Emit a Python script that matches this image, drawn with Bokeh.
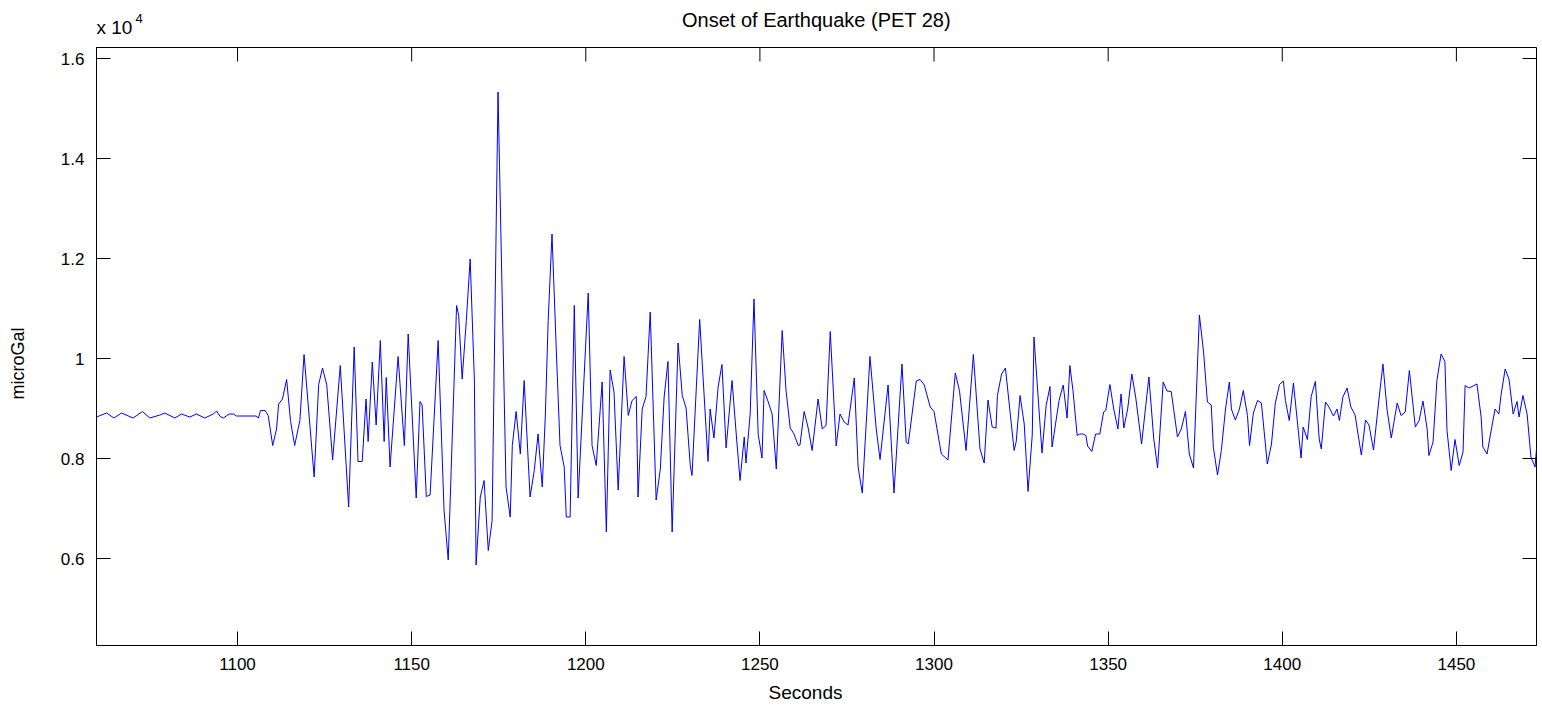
from bokeh.plotting import figure
from bokeh.models import Range1d, FixedTicker, Label, CustomJSTickFormatter
from bokeh.embed import file_html
from bokeh.resources import INLINE

# Gravimeter record around the earthquake onset (time in s, gravity in microGal)
t_sec = [
    1059.5, 1062.4, 1064.5, 1066.7, 1070.0, 1072.7, 1074.8, 1077.7, 1079.1, 1082.0,
    1083.9, 1086.3, 1088.2, 1090.6, 1093.0, 1094.0, 1095.0, 1095.9, 1097.6, 1098.8,
    1099.7, 1105.3, 1106.0, 1106.6, 1107.9, 1108.8, 1110.1, 1111.2, 1111.8, 1112.9,
    1114.1, 1115.2, 1116.4, 1117.9, 1119.1, 1122.0, 1123.3, 1124.4, 1125.6, 1127.3,
    1129.5, 1131.9, 1133.5, 1134.6, 1135.8, 1136.9, 1137.5, 1138.7, 1139.8, 1141.0,
    1142.1, 1142.7, 1143.8, 1146.1, 1147.9, 1149.0, 1151.3, 1152.4, 1153.0, 1154.2,
    1155.3, 1157.6, 1159.3, 1160.5, 1162.9, 1163.5, 1164.5, 1165.7, 1166.8, 1168.0,
    1168.5, 1169.7, 1170.8, 1172.0, 1173.1, 1174.8, 1177.1, 1178.3, 1178.9, 1180.0,
    1181.2, 1182.3, 1184.0, 1185.2, 1186.3, 1187.5, 1188.4, 1189.2, 1190.3, 1191.5,
    1192.6, 1193.8, 1194.4, 1195.5, 1196.7, 1197.8, 1200.7, 1201.8, 1203.0, 1204.7,
    1205.9, 1207.0, 1208.1, 1209.3, 1211.0, 1212.2, 1213.3, 1214.5, 1215.0, 1216.2,
    1217.3, 1218.5, 1220.2, 1221.4, 1222.5, 1223.6, 1224.8, 1226.5, 1227.7, 1228.8,
    1230.0, 1230.5, 1232.7, 1235.1, 1235.7, 1236.8, 1238.0, 1239.1, 1240.3, 1242.0,
    1243.2, 1244.3, 1245.5, 1246.0, 1247.2, 1248.3, 1249.5, 1250.6, 1251.2, 1252.4,
    1253.5, 1254.7, 1256.4, 1257.5, 1258.7, 1259.8, 1261.0, 1261.5, 1262.7, 1263.8,
    1265.0, 1266.7, 1267.9, 1269.0, 1270.2, 1271.9, 1273.0, 1274.2, 1275.3, 1277.1,
    1278.2, 1279.4, 1281.6, 1283.4, 1284.5, 1286.8, 1288.5, 1290.8, 1292.0, 1292.6,
    1294.9, 1296.0, 1297.2, 1298.9, 1300.0, 1302.1, 1304.0, 1306.1, 1307.3, 1309.2,
    1311.3, 1313.2, 1314.4, 1315.5, 1316.7, 1317.8, 1318.2, 1319.4, 1320.5, 1323.0,
    1323.6, 1324.7, 1325.9, 1327.0, 1328.2, 1328.7, 1331.0, 1332.2, 1333.3, 1333.9,
    1335.9, 1337.1, 1338.2, 1339.0, 1339.9, 1341.1, 1341.8, 1342.8, 1343.6, 1344.1,
    1345.3, 1346.4, 1347.6, 1348.7, 1349.3, 1350.5, 1351.6, 1352.8, 1353.7, 1354.5,
    1355.6, 1356.8, 1357.9, 1359.6, 1361.7, 1363.1, 1364.2, 1365.8, 1366.9, 1368.1,
    1369.2, 1369.9, 1371.0, 1372.2, 1373.3, 1374.5, 1376.2, 1377.4, 1378.5, 1379.6,
    1380.2, 1381.4, 1382.5, 1383.7, 1384.8, 1385.4, 1386.5, 1387.7, 1388.8, 1390.0,
    1390.6, 1391.7, 1392.9, 1394.0, 1395.7, 1396.9, 1398.0, 1399.2, 1400.3, 1400.9,
    1402.0, 1403.2, 1405.4, 1406.0, 1407.2, 1408.3, 1409.5, 1410.6, 1411.2, 1412.4,
    1413.4, 1414.7, 1415.7, 1416.4, 1417.4, 1418.6, 1419.7, 1420.9, 1422.7, 1423.9,
    1424.9, 1426.2, 1427.8, 1428.9, 1430.1, 1431.3, 1433.0, 1434.1, 1435.3, 1436.5,
    1438.2, 1439.3, 1440.4, 1441.6, 1442.1, 1443.3, 1444.4, 1445.6, 1446.7, 1447.3,
    1448.5, 1449.6, 1450.8, 1451.9, 1452.5, 1453.6, 1454.8, 1455.9, 1457.1, 1457.6,
    1458.8, 1459.9, 1461.1, 1462.2, 1462.8, 1464.0, 1465.1, 1466.3, 1467.4, 1468.0,
    1469.1, 1470.3, 1471.4, 1472.6, 1473.0,
]

grav_ugal = [
    8830, 8910, 8810, 8910, 8810, 8940, 8810, 8870, 8910, 8810,
    8890, 8830, 8890, 8810, 8890, 8950, 8840, 8810, 8890, 8890,
    8850, 8850, 8810, 8960, 8960, 8860, 8260, 8590, 9090, 9190,
    9580, 8760, 8260, 8760, 10080, 7630, 9480, 9810, 9480, 7970,
    9860, 7030, 10230, 7940, 7940, 9190, 8340, 9930, 8670, 10360,
    8340, 9620, 7830, 10040, 8260, 10490, 7210, 9140, 9070, 7240,
    7270, 10360, 6960, 5970, 11060, 10860, 9590, 10760, 11990, 9590,
    5870, 7230, 7560, 6160, 6760, 15330, 7430, 6830, 8260, 8940,
    8090, 9560, 7230, 7760, 8490, 7430, 8890, 10760, 12490, 10230,
    8260, 7830, 6830, 6830, 11060, 7210, 11310, 8260, 7860, 9530,
    6530, 9770, 9330, 7370, 10040, 8860, 9160, 9240, 7230, 8990,
    9240, 10930, 7170, 7790, 9230, 9940, 6530, 10310, 9260, 9010,
    7860, 7660, 10780, 7940, 8990, 8410, 9430, 9880, 8210, 9560,
    8490, 7560, 8430, 7910, 8890, 11190, 8490, 8010, 9360, 9130,
    8890, 7790, 10560, 9360, 8610, 8490, 8260, 8270, 8940, 8630,
    8160, 9190, 8590, 8660, 10540, 8250, 8890, 8730, 8670, 9610,
    7830, 7310, 10040, 8590, 7980, 9470, 7310, 9890, 8330, 8290,
    9550, 9580, 9470, 9030, 8940, 8090, 7970, 9710, 9360, 8160,
    10080, 8190, 7910, 9170, 8630, 8610, 9260, 9690, 9810, 8160,
    8340, 9260, 8690, 7340, 8470, 10430, 8110, 9060, 9440, 8230,
    9160, 9470, 8810, 9860, 9360, 8460, 8490, 8490, 8460, 8250,
    8140, 8490, 8490, 8930, 8960, 9480, 8990, 8590, 9290, 8610,
    8990, 9690, 9230, 8290, 9630, 8390, 7810, 9530, 9350, 9340,
    8790, 8430, 8590, 8940, 8090, 7810, 10870, 10130, 9130, 9070,
    8230, 7670, 8160, 8990, 9530, 8990, 8770, 8990, 9360, 8860,
    8260, 8910, 9160, 9110, 7890, 8290, 9110, 9480, 9550, 9160,
    8760, 9510, 8010, 8630, 8380, 9240, 9540, 8390, 8190, 9130,
    9030, 8850, 8990, 8760, 9230, 9410, 9030, 8870, 8070, 8770,
    8670, 8170, 9210, 9890, 8970, 8410, 9110, 8860, 8930, 9760,
    8630, 8760, 9150, 8590, 8060, 8330, 9560, 10090, 9940, 8560,
    7760, 8380, 7860, 8130, 9460, 9410, 9450, 9490, 8830, 8230,
    8090, 8530, 8990, 8890, 9260, 9790, 9590, 8890, 9140, 8830,
    9260, 8890, 8030, 7830, 8200,
]

x_ticks = [1100, 1150, 1200, 1250, 1300, 1350, 1400, 1450]
y_ticks = [6000, 8000, 10000, 12000, 14000, 16000]

X_MIN, X_MAX = 1059.5, 1473.0
Y_MIN, Y_MAX = 4260, 16220

FONT = "Liberation Sans"
TICK_LEN = 14

p = figure(
    width=1542, height=707,
    output_backend="svg", toolbar_location=None,
    x_range=Range1d(X_MIN, X_MAX), y_range=Range1d(Y_MIN, Y_MAX),
    min_border_left=96, min_border_right=6, min_border_top=47, min_border_bottom=62,
)
p.title.visible = False
p.background_fill_color = "white"
p.border_fill_color = "white"
p.outline_line_color = "black"
p.outline_line_width = 1
p.grid.visible = False

p.line(t_sec, grav_ugal, line_color="#0000ff", line_width=1)

# inward ticks mirrored on the top and right edges of the box (clipped to the frame,
# so only the inner half of each dash shows)
p.scatter(x=x_ticks, y=[Y_MAX] * len(x_ticks), marker="dash", size=2 * TICK_LEN,
          angle=90, angle_units="deg", line_color="black", line_width=1)
p.scatter(x=[X_MAX] * len(y_ticks), y=y_ticks, marker="dash", size=2 * TICK_LEN,
          line_color="black", line_width=1)

for ax in (p.xaxis[0], p.yaxis[0]):
    ax.axis_line_color = "black"
    ax.major_tick_line_color = "black"
    ax.major_tick_in = TICK_LEN
    ax.major_tick_out = 0
    ax.minor_tick_line_color = None
    ax.major_label_text_font = FONT
    ax.major_label_text_font_size = "17px"
    ax.major_label_text_color = "black"

xa = p.xaxis[0]
xa.ticker = FixedTicker(ticks=x_ticks)
xa.major_label_standoff = 12

ya = p.yaxis[0]
ya.ticker = FixedTicker(ticks=y_ticks)
ya.formatter = CustomJSTickFormatter(code="return (tick / 1e4).toString();")
ya.major_label_standoff = 12


def text_label(text, x, y, size="17px", align="left", baseline="alphabetic", angle=0):
    return Label(x=x, y=y, x_units="screen", y_units="screen", text=text,
                 text_font=FONT, text_font_size=size, text_color="black",
                 text_align=align, text_baseline=baseline,
                 angle=angle, angle_units="deg")


# texts live in the side panels so that they are not clipped by the frame;
# offsets are relative to each panel slot (x from its left, y up from its bottom)
p.add_layout(text_label("x 10", 0, 20, size="19px"), "above")
p.add_layout(text_label("Onset of Earthquake (PET 28)", 720, 7, size="20px", align="center"), "above")
p.add_layout(text_label("Seconds", 709, 1, size="19px", baseline="middle", align="center"), "below")
p.add_layout(text_label("microGal", -20, 282, size="18px", align="center", baseline="middle", angle=90), "left")
p.add_layout(text_label("4", 105, 627, size="13px"), "left")

open("out.html", "w").write(file_html(p, INLINE))
